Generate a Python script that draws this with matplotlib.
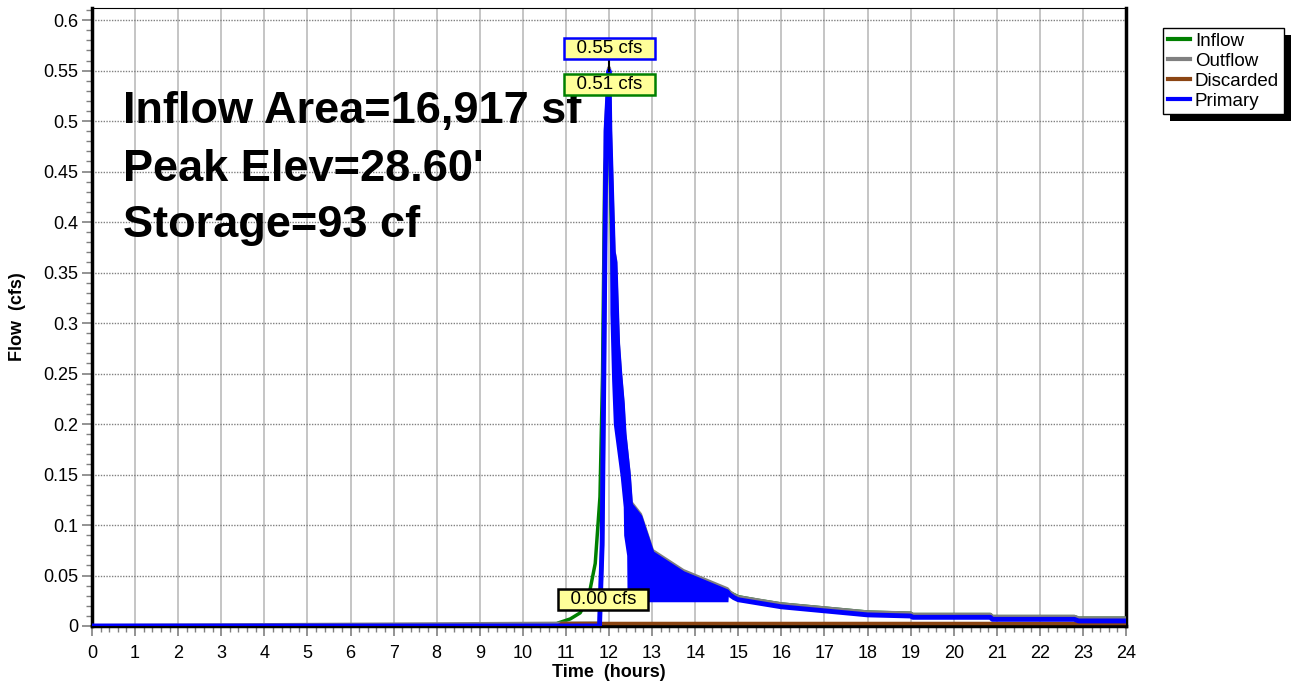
import numpy as np
import matplotlib.pyplot as plt
from matplotlib.ticker import MultipleLocator
from matplotlib.patches import Rectangle

plt.rcParams["font.family"] = ["Liberation Sans", "DejaVu Sans"]

# Hydrograph values (hours, cfs)
inflow_t = [0, 10.7, 10.82, 11.1, 11.33, 11.5, 11.56, 11.68, 11.79, 11.85, 11.9, 12.0,
            12.1, 12.2, 12.3, 12.5, 13.0, 13.7, 14.76, 15.0, 15.5, 16.0,
            16.5, 17.0, 17.5, 18.0, 19.0, 19.05, 20.85, 20.9, 22.8, 22.9, 24.0]
inflow_q = [0, 0, 0.003, 0.007, 0.013, 0.026, 0.036, 0.062, 0.128, 0.25, 0.45, 0.51,
            0.3, 0.22, 0.17, 0.11, 0.07, 0.053, 0.034, 0.029, 0.0252, 0.0218,
            0.0198, 0.0178, 0.0158, 0.0138, 0.0126, 0.0113, 0.0113, 0.0093, 0.0093, 0.0077, 0.0077]

primary_t = [0, 11.78, 11.84, 11.88, 11.93, 12.0, 12.02, 12.1, 12.14, 12.2,
             12.25, 12.31, 12.35, 12.45, 12.5, 12.72, 13.0, 13.72, 14.74, 14.8,
             14.9, 15.0, 15.5, 16.0, 16.5, 17.0, 17.5, 18.0, 19.0, 19.05, 20.85,
             20.9, 22.8, 22.9, 24.0]
primary_q = [0, 0, 0.08, 0.25, 0.49, 0.55, 0.49, 0.37, 0.36, 0.28,
             0.25, 0.22, 0.19, 0.15, 0.12, 0.108, 0.072, 0.052, 0.034, 0.031,
             0.028, 0.026, 0.0225, 0.019, 0.017, 0.015, 0.013, 0.011, 0.0099, 0.0086, 0.0086,
             0.0066, 0.0066, 0.005, 0.005]

# lower edge of the oscillating band of the primary outflow
band_t = [12.0, 12.02, 12.06, 12.1, 12.26, 12.33, 12.34, 12.41, 12.42, 14.76, 14.77]
band_lo = [0.55, 0.31, 0.244, 0.2, 0.148, 0.118, 0.09, 0.07, 0.024, 0.024, 0.031]

discarded_t = [0, 10.82, 10.9, 24.0]
discarded_q = [0, 0, 0.0025, 0.0025]

labels = ["  0.55 cfs  ", "  0.51 cfs  ", "  0.00 cfs  "]
label_x = [12.01, 12.01, 11.86]
label_y = [0.572, 0.536, 0.026]
label_edge = ["blue", "green", "black"]

summary = ["Inflow Area=16,917 sf", "Peak Elev=28.60'", "Storage=93 cf"]
summary_y = [0.498, 0.441, 0.385]

fig = plt.figure(figsize=(12.94, 6.84), dpi=100)
ax = fig.add_axes([0.0711, 0.0848, 0.7991, 0.9035])

# outflow = primary + discarded
outflow_q = np.interp(primary_t, discarded_t, discarded_q) + np.array(primary_q)

# band: upper edge follows the primary peaks, lower edge the troughs
grid_t = np.union1d(band_t, [t for t in primary_t if band_t[0] <= t <= band_t[-1]])
grid_hi = np.interp(grid_t, primary_t, primary_q)
grid_lo = np.minimum(np.interp(grid_t, band_t, band_lo), grid_hi)

ax.plot(inflow_t, inflow_q, color="green", lw=2.5, label="Inflow", zorder=3)
ax.plot(primary_t, outflow_q, color="gray", lw=3, label="Outflow", zorder=3)
ax.plot(discarded_t, discarded_q, color="#8B4513", lw=2.5, label="Discarded", zorder=3)
ax.plot(primary_t, primary_q, color="blue", lw=3.5, label="Primary", zorder=4)
ax.fill_between(grid_t, grid_lo, grid_hi, color="blue", lw=0, zorder=4)

ax.set_xlim(0, 24)
ax.set_ylim(0, 0.612)
ax.xaxis.set_major_locator(MultipleLocator(1))
ax.xaxis.set_minor_locator(MultipleLocator(0.2))
ax.yaxis.set_minor_locator(MultipleLocator(0.01))
yt = np.round(np.arange(0, 0.61, 0.05), 2)
ax.set_yticks(yt)
ax.set_yticklabels([f"{v:g}" for v in yt])
ax.tick_params(which="both", direction="out", colors="gray", labelcolor="black", labelsize=13)
ax.tick_params(which="major", length=7, width=1.2)
ax.tick_params(which="minor", length=4, width=1)
ax.tick_params(axis="x", which="major", pad=7)
ax.tick_params(axis="y", which="major", pad=3)
ax.grid(axis="x", which="major", color="#c0c0c0", lw=1.3, ls="-")
ax.grid(axis="y", which="major", color="#808080", lw=1, ls=(0, (1, 1)))
ax.set_axisbelow(True)
for side in ["left", "bottom", "right"]:
    ax.spines[side].set_linewidth(2.5)

ax.set_xlabel("Time  (hours)", fontsize=13, fontweight="bold", labelpad=1)
ax.set_ylabel("Flow  (cfs)", fontsize=13, fontweight="bold", labelpad=12)

for txt, y in zip(summary, summary_y):
    ax.text(0.72, y, txt, fontsize=32.5, fontweight="bold", va="baseline", ha="left", zorder=2)

ax.plot([12.0, 12.0], [0.55, 0.562], color="black", lw=1.5, zorder=5)
for txt, x, y, ec in zip(labels, label_x, label_y, label_edge):
    ax.text(x, y, txt, fontsize=13.5, ha="center", va="center", zorder=6,
            bbox=dict(boxstyle="square,pad=0.1", fc="#ffff99", ec=ec, lw=1.8))

leg = fig.legend(loc="upper left", bbox_to_anchor=(1163 / 1294, 1 - 28 / 684), fontsize=13.5,
                 frameon=True, fancybox=False, handlelength=1.2,
                 handletextpad=0.25, borderpad=0.25, labelspacing=0.15, borderaxespad=0)
for line in leg.get_lines():
    line.set_linewidth(3)
leg.get_frame().set_edgecolor("black")
leg.get_frame().set_linewidth(1)
leg.get_frame().set_alpha(1)

# black drop shadow under the legend
fig.canvas.draw()
bb = leg.get_frame().get_window_extent()
shadow = Rectangle((bb.x0 + 7, bb.y0 - 7), bb.width, bb.height, transform=None,
                   facecolor="black", edgecolor="none", zorder=-1)
fig.patches.append(shadow)

fig.savefig("out.png", dpi=100)
